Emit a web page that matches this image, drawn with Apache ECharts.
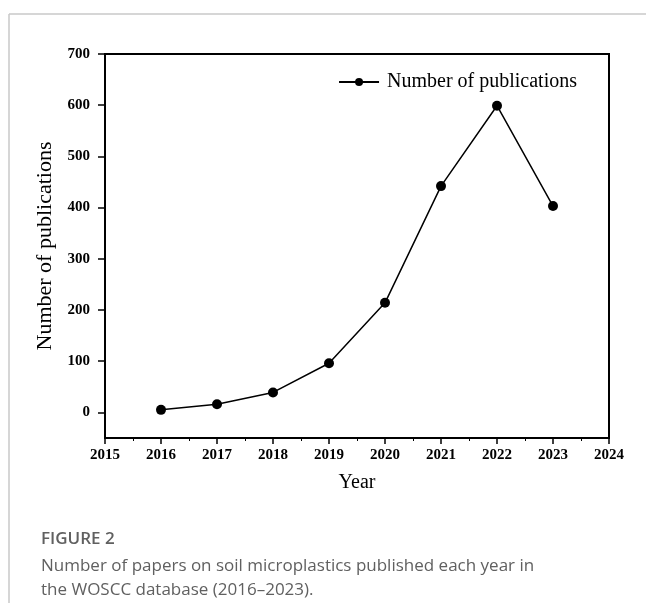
<!DOCTYPE html>
<html>
<head>
<meta charset="utf-8">
<script src="https://cdn.jsdelivr.net/npm/echarts@6/dist/echarts.min.js"></script>
<style>
    html, body { margin: 0; padding: 0; background: #fff; }
    #chart { width: 646px; height: 603px; }
</style>
</head>
<body>
<div id="chart"></div>
<script>
    // values
    const years = [2016, 2017, 2018, 2019, 2020, 2021, 2022, 2023];
    const publications = [5, 16, 39, 96, 214, 442, 599, 403];
    const yTicks = [0, 100, 200, 300, 400, 500, 600, 700];

    const serif = '"Liberation Serif", "DejaVu Serif", serif';
    const sans = '"Open Sans", "Noto Sans", sans-serif';

    const chart = echarts.init(document.getElementById('chart'));
    chart.setOption({
        animation: false,
        backgroundColor: '#fff',
        grid: {
            left: 105, right: 37, top: 54, bottom: 165,
            show: true, borderColor: '#000', borderWidth: 2
        },
        legend: {
            right: 64, top: 67,
            itemWidth: 40, itemHeight: 10, itemGap: 4,
            textStyle: { fontFamily: serif, fontSize: 20, color: '#000', padding: [0, 0, 0, 3] },
            data: ['Number of publications']
        },
        xAxis: {
            type: 'value',
            min: 2015, max: 2024, interval: 1,
            name: 'Year',
            nameLocation: 'middle',
            nameGap: 35,
            nameTextStyle: { fontFamily: serif, fontSize: 20, color: '#000' },
            axisLine: { onZero: false, lineStyle: { color: '#000', width: 2 } },
            axisTick: { length: 6, lineStyle: { color: '#000', width: 1.5 } },
            minorTick: { show: true, splitNumber: 2, length: 3, lineStyle: { color: '#000' } },
            axisLabel: {
                fontFamily: serif, fontSize: 15, fontWeight: 'bold', color: '#000', margin: 10,
                formatter: v => String(v)
            },
            splitLine: { show: false }
        },
        yAxis: {
            type: 'value',
            min: -50, max: 700,
            name: 'Number of publications',
            nameLocation: 'middle',
            nameGap: 47,
            nameTextStyle: { fontFamily: serif, fontSize: 22, color: '#000' },
            axisLine: { show: true, onZero: false, lineStyle: { color: '#000', width: 2 } },
            axisTick: { show: true, customValues: yTicks, length: 7, lineStyle: { color: '#000', width: 1.5 } },
            axisLabel: {
                customValues: yTicks,
                fontFamily: serif, fontSize: 15, fontWeight: 'bold', color: '#000', margin: 15
            },
            splitLine: { show: false }
        },
        series: [{
            name: 'Number of publications',
            type: 'line',
            data: years.map((y, i) => [y, publications[i]]),
            symbol: 'circle',
            symbolSize: 10,
            itemStyle: { color: '#000' },
            lineStyle: { color: '#000', width: 1.5 }
        }],
        graphic: [
            { type: 'line', shape: { x1: 9, y1: 14, x2: 646, y2: 14 }, style: { stroke: '#c8c8c8', lineWidth: 1.5 } },
            { type: 'line', shape: { x1: 9, y1: 14, x2: 9, y2: 603 }, style: { stroke: '#c8c8c8', lineWidth: 1.5 } },
            {
                type: 'text', left: 41, top: 531,
                style: { text: 'FIGURE 2', font: '600 17px ' + sans, fill: '#606060' }
            },
            {
                type: 'text', left: 41, top: 558,
                style: { text: 'Number of papers on soil microplastics published each year in', font: '17px ' + sans, fill: '#606060' }
            },
            {
                type: 'text', left: 41, top: 582,
                style: { text: 'the WOSCC database (2016\u20132023).', font: '17px ' + sans, fill: '#606060' }
            }
        ]
    });
</script>
</body>
</html>
